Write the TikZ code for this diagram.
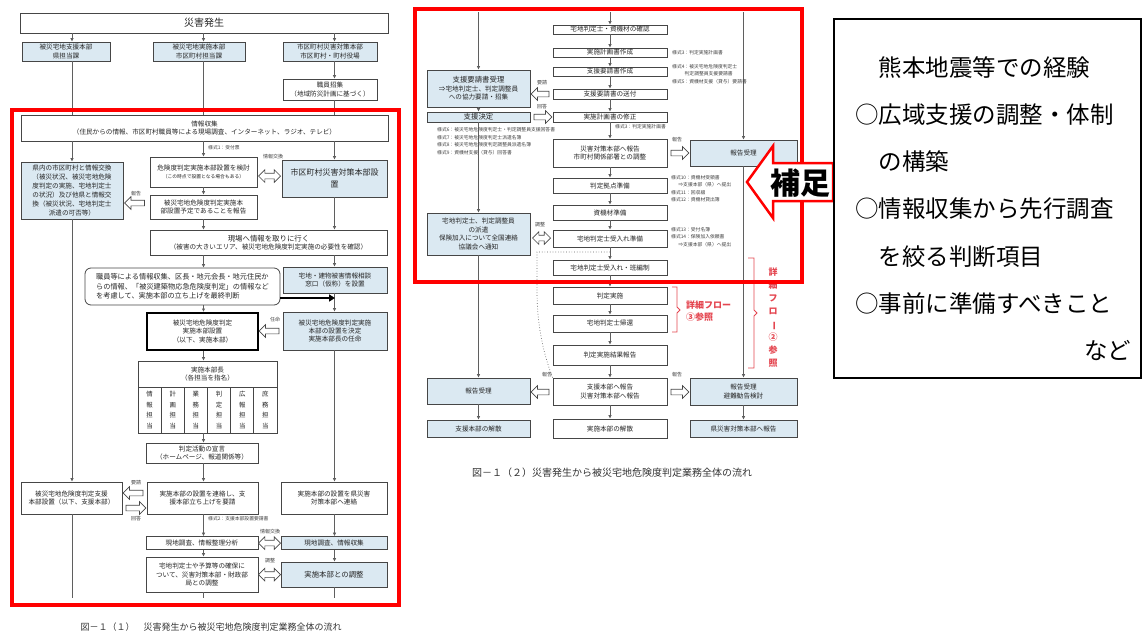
\documentclass[tikz, border = 0pt]{standalone}
\usepackage{fontspec}
\setmainfont{Noto Sans CJK JP}
\usetikzlibrary{arrows.meta, shapes.arrows}

\definecolor{paleblue}{RGB}{219, 233, 242}
\definecolor{boxgray}{RGB}{70, 70, 70}
\definecolor{linegray}{RGB}{95, 95, 95}
\definecolor{notered}{RGB}{228, 70, 80}

\begin{document}
\begin{tikzpicture}[x = 1pt, y = -1pt,
	box/.style = {draw = boxgray, line width = 0.8pt, fill = white, align = center, inner sep = 0pt, text = black!85, font = \fontsize{6.6}{8.4}\selectfont},
	bluebox/.style = {box, fill = paleblue},
	wh/.style 2 args = {minimum width = #1pt, minimum height = #2pt},
	flow/.style = {draw = linegray, line width = 0.7pt, -{Latex[length = 3.5pt, width = 3.5pt]}},
	wire/.style = {draw = linegray, line width = 0.7pt},
	dotline/.style = {draw = linegray, line width = 0.7pt, dotted},
	larrow/.style = {single arrow, draw = boxgray, fill = white, line width = 0.7pt, minimum height = 20pt, inner xsep = 0pt, inner ysep = 2.5pt, single arrow head extend = 3.5pt, single arrow head indent = 0pt, shape border rotate = 180},
	rarrow/.style = {larrow, shape border rotate = 0},
	dblarrow/.style = {double arrow, draw = boxgray, fill = white, line width = 0.7pt, minimum height = 22pt, inner xsep = 0pt, inner ysep = 2.5pt, double arrow head extend = 3.5pt, double arrow head indent = 0pt},
	tag/.style = {inner sep = 0pt, text = black!75, font = \fontsize{5}{6}\selectfont},
	note/.style = {inner sep = 0pt, align = left, text = black!75, font = \fontsize{4.8}{7.4}\selectfont},
	caption/.style = {inner sep = 0pt, text = black!80},
	redframe/.style = {draw = red, line width = 3.5pt},
	redline/.style = {draw = notered, line width = 0.9pt}]

	\useasboundingbox (0, 0) rectangle (1142, 635);

	% Left chart: disaster and headquarters

	\node [box, wh = {368}{20}, font = \fontsize{10}{12}\selectfont] (hassei) at (204, 23) {災害発生};
	\node [bluebox, wh = {88}{19}] (kenHQ) at (66, 51.5) {被災宅地支援本部\\県担当課};
	\node [bluebox, wh = {92}{19}] (shiHQ) at (199, 51.5) {被災宅地実施本部\\市区町村担当課};
	\node [bluebox, wh = {94}{19}] (saitaiHQ) at (330, 51.5) {市区町村災害対策本部\\市区町村・町村役場};
	\node [box, wh = {94}{21}] (shokuin) at (330, 89.5) {職員招集\\（地域防災計画に基づく）};

	\node [box, wh = {367}{26}] (joho) at (204.5, 128) {情報収集\\（住民からの情報、市区町村職員等による現場調査、インターネット、ラジオ、テレビ）};
	\node [bluebox, wh = {102}{57}, font = \fontsize{6.6}{9}\selectfont] (kennai) at (72, 190.5) {県内の市区町村と情報交換\\（被災状況、被災宅地危険\\度判定の実施、宅地判定士\\の状況）及び他県と情報交\\換（被災状況、宅地判定士\\派遣の可否等）};
	\node [box, wh = {107}{30}] (kento) at (203.5, 172) {危険度判定実施本部設置を検討\\{\fontsize{4.8}{6}\selectfont （この時点で設置となる場合もある）}};
	\node [box, wh = {107}{24}] (yotei) at (203.5, 207) {被災宅地危険度判定実施本\\部設置予定であることを報告};
	\node [bluebox, wh = {105}{37}, font = \fontsize{8}{12}\selectfont] (taisaku) at (334.5, 178.5) {市区町村災害対策本部設\\置};

	\node [box, wh = {237}{25}] (genba) at (268.5, 242.5) {{\fontsize{7.4}{8.4}\selectfont 現場へ情報を取りに行く}\\（被害の大きいエリア、被災宅地危険度判定実施の必要性を確認）};
	\node [box, rounded corners = 6pt, wh = {195}{37}, align = left, font = \fontsize{7.2}{9.5}\selectfont] (handan) at (182.5, 286.5) {職員等による情報収集、区長・地元会長・地元住民か\\らの情報、「被災建築物応急危険度判定」の情報など\\を考慮して、実施本部の立ち上げを最終判断};
	\node [bluebox, wh = {104}{26}] (madoguchi) at (335, 280) {宅地・建物被害情報相談\\窓口（仮称）を設置};
	\node [box, draw = black, line width = 2pt, wh = {111}{37}] (jisshi) at (202.5, 331.5) {被災宅地危険度判定\\実施本部設置\\（以下、実施本部）};
	\node [bluebox, wh = {104}{38}] (ninmei) at (335, 331) {被災宅地危険度判定実施\\本部の設置を決定\\実施本部長の任命};

	% Left chart: duties of the headquarters

	\node [box, wh = {139}{26}] (honbucho) at (207.5, 374) {実施本部長\\（各担当を指名）};
	\foreach \duty [count = \i] in {情\\報\\担\\当, 計\\画\\担\\当, 業\\務\\担\\当, 判\\定\\担\\当, 広\\報\\担\\当, 庶\\務\\担\\当}
		\node [box, wh = {23.17}{46}, font = \fontsize{6.4}{10.5}\selectfont] (tan\i) at ({138 + 23.17 * (\i - 0.5)}, 410) {\duty};

	\node [box, wh = {112}{20}] (sengen) at (202, 453) {判定活動の宣言\\（ホームページ、報道関係等）};
	\node [box, wh = {101}{32}] (shienHQ) at (71.5, 498) {被災宅地危険度判定支援\\本部設置（以下、支援本部）};
	\node [box, wh = {111}{32}] (renraku) at (202.5, 498) {実施本部の設置を連絡し、支\\援本部立ち上げを要請};
	\node [box, wh = {106}{32}] (kenrenraku) at (334, 498) {実施本部の設置を県災害\\対策本部へ連絡};
	\node [box, wh = {112}{13}] (genchi) at (202, 543) {現地調査、情報整理分析};
	\node [bluebox, wh = {106}{13}] (genchijoho) at (334, 543) {現地調査、情報収集};
	\node [box, wh = {112}{35}] (kakuho) at (202, 574.5) {宅地判定士や予算等の確保に\\ついて、災害対策本部・財政部\\局との調整};
	\node [bluebox, wh = {106}{25}, font = \fontsize{7.4}{9}\selectfont] (chosei) at (334, 574.5) {実施本部との調整};

	\coordinate (leftend) at (72, 598);
	\coordinate (midend) at (203.5, 598);
	\coordinate (rightend) at (334.5, 598);

	% Left chart: column lines

	\draw [flow] (hassei.south -| kennai) -- (kenHQ.north -| kennai);
	\draw [flow] (hassei.south -| kento) -- (shiHQ.north -| kento);
	\draw [flow] (hassei.south -| taisaku) -- (saitaiHQ.north -| taisaku);
	\draw [wire] (kenHQ.south -| kennai) -- (joho.north -| kennai);
	\draw [wire] (shiHQ.south -| kento) -- (joho.north -| kento);
	\draw [flow] (saitaiHQ.south -| taisaku) -- (shokuin.north -| taisaku);
	\draw [wire] (shokuin.south -| taisaku) -- (joho.north -| taisaku);

	\draw [flow] (joho.south -| kennai) -- (kennai.north);
	\draw [flow] (joho.south -| kento) -- (kento.north);
	\draw [flow] (joho.south -| taisaku) -- (taisaku.north);
	\draw [flow] (kento.south) -- (yotei.north);
	\draw [flow] (yotei.south) -- (genba.north -| yotei);
	\draw [flow] (taisaku.south) -- (genba.north -| taisaku);
	\draw [flow] (genba.south -| kento) -- (handan.north -| kento);
	\draw [flow] (genba.south -| taisaku) -- (madoguchi.north -| taisaku);
	\draw [flow] (handan.south -| kento) -- (jisshi.north -| kento);
	\draw [flow] (madoguchi.south -| taisaku) -- (ninmei.north -| taisaku);
	\draw [flow] (jisshi.south -| kento) -- (honbucho.north -| kento);
	\draw [flow] (tan3.south -| kento) -- (sengen.north -| kento);
	\draw [flow] (sengen.south -| kento) -- (renraku.north -| kento);
	\draw [flow] (renraku.south -| kento) -- (genchi.north -| kento);
	\draw [flow] (genchi.south -| kento) -- (kakuho.north -| kento);
	\draw [wire] (kakuho.south -| kento) -- (midend);
	\draw [flow] (kennai.south) -- (shienHQ.north -| kennai);
	\draw [wire] (shienHQ.south -| kennai) -- (leftend);
	\draw [flow] (ninmei.south -| taisaku) -- (kenrenraku.north -| taisaku);
	\draw [flow] (kenrenraku.south -| taisaku) -- (genchijoho.north -| taisaku);
	\draw [flow] (genchijoho.south -| taisaku) -- (chosei.north -| taisaku);
	\draw [wire] (chosei.south -| taisaku) -- (rightend);

	\draw [line width = 2.5pt, -{Triangle[length = 6pt, width = 7pt]}] ([yshift = -11.5pt]handan.east) -- ([yshift = -11.5pt]handan.east -| madoguchi);

	% Left chart: block arrows and labels

	\node [larrow] (hokokuA) at (136, 203) {};
	\node [tag] (hokokuT) at (136, 194) {報告};
	\node [dblarrow] (kokanA) at (269.5, 176) {};
	\node [tag] (kokanT) at (273, 157) {情報交換};
	\node [larrow] (ninmeiA) at (270.5, 331) {};
	\node [tag] (ninmeiT) at (275, 320) {任命};
	\node [larrow] (yoseiA) at (134.5, 493) {};
	\node [tag] (yoseiT) at (136, 483) {要請};
	\node [rarrow] (kaitoA) at (134.5, 508) {};
	\node [tag] (kaitoT) at (136, 519) {回答};
	\node [dblarrow] (kokanB) at (269.5, 543) {};
	\node [tag] (kokanBT) at (270, 532) {情報交換};
	\node [dblarrow] (choseiA) at (269.5, 574.5) {};
	\node [tag] (choseiT) at (270, 561) {調整};

	\node [note, anchor = west] (form1) at (208, 148) {様式1：受付票};
	\node [note, anchor = west] (form2) at (208, 519) {様式2：支援本部設置要請書};

	\node [caption, font = \fontsize{9}{11}\selectfont] (capleft) at (211, 627) {図－１（１）\quad 災害発生から被災宅地危険度判定業務全体の流れ};

	% Right chart: middle column

	\node [box, wh = {114}{9}] (kakunin) at (610, 29.5) {宅地判定士・資機材の確認};
	\node [box, wh = {114}{9}] (keikaku) at (610, 52.5) {実施計画書作成};
	\node [box, wh = {114}{9}] (yoseisho) at (610, 71.5) {支援要請書作成};
	\node [box, wh = {114}{10}] (sofu) at (610, 94) {支援要請書の送付};
	\node [box, wh = {114}{10}] (shusei) at (610, 117) {実施計画書の修正};
	\node [box, wh = {114}{28}] (hokoku) at (610, 153) {災害対策本部へ報告\\市町村関係部署との調整};
	\node [box, wh = {114}{15}] (kyoten) at (610, 185.5) {判定拠点準備};
	\node [box, wh = {114}{15}] (shizai) at (610, 212.5) {資機材準備};
	\node [box, wh = {114}{17}] (ukeire) at (610, 238.5) {宅地判定士受入れ準備};
	\node [box, wh = {114}{15}] (hanhensei) at (610, 267.5) {宅地判定士受入れ・班編制};
	\node [box, wh = {114}{17}] (jisshiR) at (610, 295.5) {判定実施};
	\node [box, wh = {114}{17}] (kikan) at (610, 323.5) {宅地判定士帰還};
	\node [box, wh = {114}{20}] (kekka) at (610, 355) {判定実施結果報告};
	\node [box, wh = {114}{27}] (shienhokoku) at (610, 391.5) {支援本部へ報告\\災害対策本部へ報告};
	\node [box, wh = {114}{19}] (kaisan) at (610, 428.5) {実施本部の解散};

	% Right chart: side columns

	\node [bluebox, wh = {103}{37}] (juri) at (478.5, 88.5) {{\fontsize{7.4}{8.4}\selectfont 支援要請書受理}\\⇒宅地判定士、判定調整員\\への協力要請・招集};
	\node [bluebox, wh = {103}{10}, font = \fontsize{7.4}{8.4}\selectfont] (ketsu) at (478.5, 117) {支援決定};
	\node [bluebox, wh = {103}{42}] (haken) at (478.5, 234) {宅地判定士、判定調整員\\の派遣\\保険加入について全国連絡\\協議会へ通知};
	\node [bluebox, wh = {103}{26}] (jurileft) at (478.5, 391) {報告受理};
	\node [bluebox, wh = {103}{17}] (shienkaisan) at (478.5, 428.5) {支援本部の解散};
	\node [bluebox, wh = {107}{26}] (jurir) at (743.5, 153) {報告受理};
	\node [bluebox, wh = {107}{27}] (kentoR) at (743.5, 391.5) {報告受理\\避難勧告検討};
	\node [bluebox, wh = {107}{17}] (kenhokoku) at (743.5, 428.5) {県災害対策本部へ報告};

	\coordinate (topL) at (478.5, 12);
	\coordinate (topM) at (610, 12);
	\coordinate (topR) at (743.5, 12);
	\coordinate (loopjoin) at (610, 252);

	% Right chart: column lines

	\draw [flow] (topL) -- (juri.north);
	\draw [flow] (topM) -- (kakunin.north);
	\draw [flow] (topR) -- (jurir.north);
	\draw [flow] (kakunin.south) -- (keikaku.north);
	\draw [flow] (keikaku.south) -- (yoseisho.north);
	\draw [flow] (yoseisho.south) -- (sofu.north);
	\draw [flow] (sofu.south) -- (shusei.north);
	\draw [flow] (shusei.south) -- (hokoku.north);
	\draw [flow] (hokoku.south) -- (kyoten.north);
	\draw [flow] (kyoten.south) -- (shizai.north);
	\draw [flow] (shizai.south) -- (ukeire.north);
	\draw [flow] (ukeire.south) -- (hanhensei.north);
	\draw [flow] (hanhensei.south) -- (jisshiR.north);
	\draw [flow] (jisshiR.south) -- (kikan.north);
	\draw [flow] (kikan.south) -- (kekka.north);
	\draw [flow] (kekka.south) -- (shienhokoku.north);
	\draw [flow] (shienhokoku.south) -- (kaisan.north);
	\draw [flow] (juri.south) -- (ketsu.north);
	\draw [flow] (ketsu.south) -- (haken.north);
	\draw [flow] (haken.south) -- (jurileft.north);
	\draw [flow] (jurileft.south) -- (shienkaisan.north);
	\draw [flow] (jurir.south) -- (kentoR.north);
	\draw [flow] (kentoR.south) -- (kenhokoku.north);

	\draw [dotline] (shienhokoku.north west) .. controls (540, 345) and (537, 315) .. (537, 290) -- (537, 252) -- (loopjoin);

	% Right chart: block arrows and labels

	\node [larrow, minimum height = 18pt] (yoseiR) at (541.5, 94) {};
	\node [tag] (yoseiRT) at (542, 83) {要請};
	\node [rarrow, minimum height = 18pt] (kaitoR) at (541.5, 117) {};
	\node [tag] (kaitoRT) at (542, 107) {回答};
	\node [rarrow, minimum height = 18pt] (hokokuR) at (678.5, 153) {};
	\node [tag] (hokokuRT) at (677, 140) {報告};
	\node [dblarrow, minimum height = 18pt] (choseiR) at (541.5, 238) {};
	\node [tag] (choseiRT) at (540, 225) {調整};
	\node [larrow, minimum height = 18pt] (hokokuL) at (541.5, 392) {};
	\node [tag] (hokokuLT) at (547, 375) {報告};
	\node [rarrow, minimum height = 18pt] (hokokuR2) at (678.5, 392) {};
	\node [tag] (hokokuR2T) at (677, 375) {報告};

	\node [note, anchor = west] (form3) at (672, 52.5) {様式3：判定実施計画書};
	\node [note, anchor = north west] (form4) at (672, 64) {様式4：被災宅地危険度判定士\\\hspace*{2.6em}判定調整員支援要請書\\様式5：資機材支援（貸与）要請書};
	\node [note, anchor = west] (form3b) at (615, 127) {様式3：判定実施計画書};
	\node [note, anchor = north west] (form6) at (437, 127.5) {様式6：被災宅地危険度判定士・判定調整員支援回答書\\様式7：被災宅地危険度判定士派遣名簿\\様式8：被災宅地危険度判定調整員派遣名簿\\様式9：資機材支援（貸与）回答書};
	\node [note, anchor = north west] (form10) at (671, 175) {様式10：資機材受領書\\\hspace*{1.5em}⇒支援本部（県）へ提出\\様式11：回収綴\\様式12：資機材貸出簿};
	\node [note, anchor = north west] (form13) at (671, 227) {様式13：受付名簿\\様式14：保険加入依頼書\\\hspace*{1.5em}⇒支援本部（県）へ提出};

	% Detail flow brackets

	\draw [redline] (672, 287) -- (677, 287) -- (677, 307) -- (680, 310) -- (677, 313) -- (677, 332) -- (672, 332);
	\draw [redline] (748, 258) -- (754, 258) -- (754, 310) -- (757, 313) -- (754, 316) -- (754, 368) -- (748, 368);
	\node [inner sep = 0pt, anchor = west, align = left, text = notered, font = \fontsize{9}{12}\selectfont\bfseries] (flow3) at (686, 311) {詳細フロー\\③参照};
	\node [inner sep = 0pt, align = center, text = notered, font = \fontsize{9}{13}\selectfont\bfseries] (flow2) at (773, 318) {詳\\細\\フ\\ロ\\\rotatebox[origin = c]{-90}{ー}\\②\\参\\照};

	\node [caption, font = \fontsize{10}{12}\selectfont] (capright) at (612, 473) {図－１（２）災害発生から被災宅地危険度判定業務全体の流れ};

	% Red frames

	\draw [redframe] (12, 110) rectangle (399, 605);
	\draw [redframe] (415, 9) rectangle (802, 282);

	% Supplement arrow and experience box

	\draw [draw = red, line width = 2.5pt, fill = white, line join = miter] (747, 182) -- (773, 146) -- (773, 163) -- (833, 163) -- (833, 201) -- (773, 201) -- (773, 218) -- cycle;
	\node [inner sep = 0pt, font = \fontsize{30}{30}\selectfont\bfseries] (hosoku) at (800, 183) {補足};

	\node [draw = black, line width = 1.5pt, minimum width = 307pt, minimum height = 359pt] (keiken) at (987.5, 198.5) {};
	\node [anchor = north west, inner sep = 0pt, text width = 276pt, align = left, font = \fontsize{23.5}{47.3}\selectfont] (keikentext) at (855, 56) {\hspace*{1em}熊本地震等での経験\\○広域支援の調整・体制\\\hspace*{1em}の構築\\○情報収集から先行調査\\\hspace*{1em}を絞る判断項目\\○事前に準備すべきこと\\\hspace*{\fill}など};

\end{tikzpicture}
\end{document}
